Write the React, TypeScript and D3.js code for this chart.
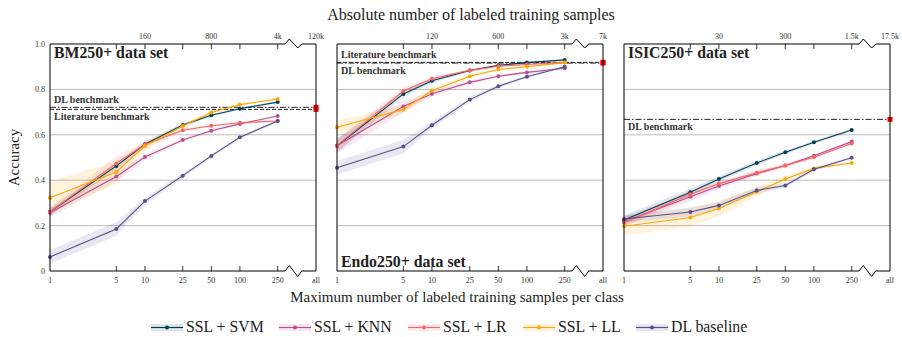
import React from "react";
import * as d3 from "d3";

// samples per class (x axis) and the labels of the top axis per data set
const steps = [1, 5, 10, 25, 50, 100, 250];
const models = ["SSL + SVM", "SSL + KNN", "SSL + LR", "SSL + LL", "DL baseline"];
const colours = ["#003f5c", "#bc5090", "#ff6361", "#ffa600", "#58508d"];
const yTicks = [0, 0.2, 0.4, 0.6, 0.8, 1.0];

// BM250+
const bmSvm = [0.261, 0.463, 0.558, 0.643, 0.686, 0.715, 0.744];
const bmKnn = [0.257, 0.416, 0.502, 0.577, 0.618, 0.648, 0.683];
const bmLr = [0.261, 0.474, 0.557, 0.62, 0.64, 0.653, 0.661];
const bmLl = [0.323, 0.436, 0.551, 0.639, 0.698, 0.733, 0.758];
const bmDl = [0.062, 0.185, 0.308, 0.42, 0.507, 0.589, 0.661];
const bmSvmSd = [0.015, 0.015, 0.01, 0.008, 0.006, 0.005, 0.005];
const bmKnnSd = [0.02, 0.02, 0.012, 0.008, 0.006, 0.005, 0.005];
const bmLrSd = [0.02, 0.03, 0.015, 0.008, 0.006, 0.005, 0.005];
const bmLlSd = [0.07, 0.05, 0.02, 0.01, 0.008, 0.006, 0.005];
const bmDlSd = [0.03, 0.03, 0.015, 0.01, 0.008, 0.006, 0.005];
const bmTop = ["160", "800", "4k", "120k"];

// Endo250+
const endoSvm = [0.552, 0.78, 0.838, 0.883, 0.906, 0.918, 0.93];
const endoKnn = [0.552, 0.725, 0.781, 0.831, 0.858, 0.875, 0.893];
const endoLr = [0.552, 0.793, 0.847, 0.884, 0.902, 0.91, 0.919];
const endoLl = [0.633, 0.712, 0.794, 0.858, 0.888, 0.9, 0.918];
const endoDl = [0.455, 0.548, 0.642, 0.755, 0.814, 0.856, 0.9];
const endoSvmSd = [0.03, 0.015, 0.01, 0.006, 0.005, 0.004, 0.004];
const endoKnnSd = [0.035, 0.025, 0.012, 0.008, 0.006, 0.005, 0.004];
const endoLrSd = [0.03, 0.015, 0.01, 0.006, 0.005, 0.004, 0.004];
const endoLlSd = [0.03, 0.02, 0.012, 0.008, 0.006, 0.005, 0.004];
const endoDlSd = [0.03, 0.03, 0.015, 0.01, 0.008, 0.006, 0.005];
const endoTop = ["120", "600", "3k", "7k"];

// ISIC250+
const isicSvm = [0.225, 0.347, 0.405, 0.476, 0.523, 0.567, 0.621];
const isicKnn = [0.217, 0.327, 0.374, 0.429, 0.465, 0.508, 0.57];
const isicLr = [0.214, 0.338, 0.385, 0.433, 0.465, 0.501, 0.562];
const isicLl = [0.197, 0.236, 0.275, 0.349, 0.405, 0.452, 0.476];
const isicDl = [0.229, 0.26, 0.289, 0.355, 0.377, 0.448, 0.499];
const isicSvmSd = [0.02, 0.015, 0.012, 0.01, 0.008, 0.006, 0.005];
const isicKnnSd = [0.02, 0.02, 0.012, 0.01, 0.008, 0.006, 0.005];
const isicLrSd = [0.02, 0.015, 0.012, 0.01, 0.008, 0.006, 0.005];
const isicLlSd = [0.04, 0.04, 0.035, 0.02, 0.012, 0.008, 0.006];
const isicDlSd = [0.015, 0.02, 0.015, 0.015, 0.01, 0.008, 0.006];
const isicTop = ["30", "300", "1.5k", "17.5k"];
const topAt = [10, 50, 250]; // where the three first top labels sit

const panels = [
  {
    title: "BM250+ data set", titleBottom: false, top: bmTop,
    means: [bmSvm, bmKnn, bmLr, bmLl, bmDl],
    sds: [bmSvmSd, bmKnnSd, bmLrSd, bmLlSd, bmDlSd],
    bench: [
      { name: "DL benchmark", value: 0.721, dash: "6,2,1.5,2", above: true },
      { name: "Literature benchmark", value: 0.712, dash: "4,2", above: false },
    ],
  },
  {
    title: "Endo250+ data set", titleBottom: true, top: endoTop,
    means: [endoSvm, endoKnn, endoLr, endoLl, endoDl],
    sds: [endoSvmSd, endoKnnSd, endoLrSd, endoLlSd, endoDlSd],
    bench: [
      { name: "Literature benchmark", value: 0.919, dash: "4,2", above: true },
      { name: "DL benchmark", value: 0.916, dash: "6,2,1.5,2", above: false },
    ],
  },
  {
    title: "ISIC250+ data set", titleBottom: false, top: isicTop,
    means: [isicSvm, isicKnn, isicLr, isicLl, isicDl],
    sds: [isicSvmSd, isicKnnSd, isicLrSd, isicLlSd, isicDlSd],
    bench: [{ name: "DL benchmark", value: 0.668, dash: "6,2,1.5,2", above: false }],
  },
];

const panelLeft = [50, 337, 624];
const panelW = 266;
const logW = 227.7;
const top = 44;
const bottom = 271;
const serif = "'Liberation Serif', 'DejaVu Serif', serif";
const legendX = [151, 279, 408, 523, 636];

const y = d3.scaleLinear().domain([0, 1]).range([bottom, top]);

function Panel({ p, x0, showY }: any) {
  const x = d3.scaleLog().domain([1, 250]).range([x0, x0 + logW]);
  const xAll = x0 + panelW;
  const bs = x(250) + 7.3;
  const botPath = `M${x0},${bottom}L${bs},${bottom}L${bs + 4.3},${bottom - 5.5}L${bs + 12.7},${bottom + 5.5}L${bs + 16.7},${bottom}L${xAll},${bottom}`;
  const topPath = `M${x0},${top}L${bs},${top}L${bs + 4.3},${top - 5}L${bs + 12.7},${top + 4}L${bs + 16.7},${top}L${xAll},${top}`;
  const line = d3.line<number>().x((_, i) => x(steps[i])).y(d => y(d));
  return (
    <g>
      {yTicks.slice(1, 5).map(t => (
        <line key={t} x1={x0} x2={xAll} y1={y(t)} y2={y(t)} stroke="#b4b4b4" strokeWidth={0.9} />
      ))}
      {p.bench.map((b: any) => (
        <g key={b.name}>
          <line x1={x0} x2={xAll} y1={y(b.value)} y2={y(b.value)} stroke="#222" strokeWidth={1} strokeDasharray={b.dash} />
          <text x={x0 + 4} y={b.above ? y(b.value) - 4 : y(b.value) + 11} fontFamily={serif} fontWeight="bold" fontSize={10} fill="#333">{b.name}</text>
          <rect x={xAll - 2.5} y={y(b.value) - 2.5} width={5} height={5} fill="#ff0000" />
        </g>
      ))}
      {p.means.map((m: number[], k: number) => {
        const sd = p.sds[k];
        const area = d3.area<number>().x((_, i) => x(steps[i])).y0((d, i) => y(d - sd[i])).y1((d, i) => y(d + sd[i]));
        return <path key={k} d={area(m) || ""} fill={colours[k]} fillOpacity={0.13} />;
      })}
      {p.means.map((m: number[], k: number) => (
        <g key={k}>
          <path d={line(m) || ""} fill="none" stroke={colours[k]} strokeWidth={1.1} />
          {m.map((v, i) => <circle key={i} cx={x(steps[i])} cy={y(v)} r={2} fill={colours[k]} />)}
        </g>
      ))}
      <line x1={x0} x2={x0} y1={top} y2={bottom} stroke="#000" />
      <line x1={xAll} x2={xAll} y1={top} y2={bottom} stroke="#000" />
      <path d={botPath} fill="none" stroke="#000" />
      <path d={topPath} fill="none" stroke="#000" />
      {steps.slice(1).map(s => (
        <g key={s}>
          <line x1={x(s)} x2={x(s)} y1={bottom} y2={bottom - 5} stroke="#000" strokeWidth={0.8} />
          <line x1={x(s)} x2={x(s)} y1={top} y2={top + 5} stroke="#000" strokeWidth={0.8} />
        </g>
      ))}
      {steps.map(s => (
        <text key={s} x={x(s)} y={283} textAnchor="middle" fontFamily={serif} fontSize={8} fill="#333">{s}</text>
      ))}
      <text x={xAll} y={283} textAnchor="middle" fontFamily={serif} fontSize={8} fill="#333">all</text>
      {p.top.map((t: string, i: number) => (
        <text key={t} x={i < 3 ? x(topAt[i]) : xAll} y={39} textAnchor="middle" fontFamily={serif} fontSize={8} fill="#333">{t}</text>
      ))}
      {showY && yTicks.map(t => (
        <text key={t} x={45} y={y(t) + 3} textAnchor="end" fontFamily={serif} fontSize={8} fill="#333">{t === 0 ? "0" : t.toFixed(1)}</text>
      ))}
      <text x={x0 + 4} y={p.titleBottom ? bottom - 4 : top + 14} fontFamily={serif} fontWeight="bold" fontSize={15.8} fill="#222">{p.title}</text>
    </g>
  );
}

export default function App() {
  return (
    <svg width={902} height={337} style={{ display: "block", position: "absolute", left: 0, top: 0 }}>
      <rect width={902} height={337} fill="#fff" />
      <text x={471} y={20} textAnchor="middle" fontFamily={serif} fontSize={16} fill="#222">Absolute number of labeled training samples</text>
      <text x={457} y={302} textAnchor="middle" fontFamily={serif} fontSize={15} fill="#222">Maximum number of labeled training samples per class</text>
      <text transform={`translate(19,${(top + bottom) / 2}) rotate(-90)`} textAnchor="middle" fontFamily={serif} fontSize={15} fill="#222">Accuracy</text>
      {panels.map((p, i) => <Panel key={p.title} p={p} x0={panelLeft[i]} showY={i === 0} />)}
      {models.map((m, k) => (
        <g key={m}>
          <rect x={legendX[k]} y={324} width={32} height={7} fill={colours[k]} fillOpacity={0.13} />
          <line x1={legendX[k]} x2={legendX[k] + 32} y1={327.5} y2={327.5} stroke={colours[k]} strokeWidth={1.2} />
          <circle cx={legendX[k] + 16} cy={327.5} r={2} fill={colours[k]} />
          <text x={legendX[k] + 35} y={332} fontFamily={serif} fontSize={15.8} fill="#222">{m}</text>
        </g>
      ))}
    </svg>
  );
}
